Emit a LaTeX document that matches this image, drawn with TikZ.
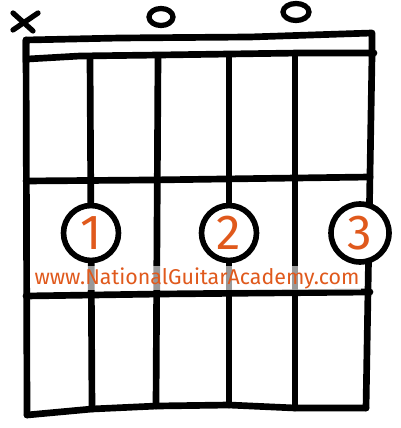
\documentclass[tikz,border=0pt]{standalone}
\usepackage{fontspec}
\setsansfont{Fira Sans}
\usepackage{tikz}
\usetikzlibrary{calc}
\definecolor{NGAorange}{HTML}{E0591C}

\begin{document}
\begin{tikzpicture}[x=0.02cm, y=-0.02cm, line cap=round, line join=round]
\useasboundingbox (0,0) rectangle (400,428);
\tikzset{wire/.style={line width=3.8pt}, fingerdot/.style={circle, draw, line width=3.2pt, fill=white, minimum size=1.1cm, inner sep=0pt, text=NGAorange, font=\sffamily\fontsize{28}{28}\selectfont}}
\draw[wire] (26,62) -- (26,40) -- (120,38) -- (250,37) -- (372,33) -- (372,56); %nut top
\draw[wire] (28,59) -- (80,56) -- (160,55) -- (300,53) -- (374,53); %nut bottom
\draw[wire] (26,40) -- (27,415); %string 6
\draw[wire] (90,58) -- (92,409); %string 5
\draw[wire] (158,57) -- (156,406); %string 4
\draw[wire] (229,56) -- (229,405); %string 3
\draw[wire] (295,56) -- (295,408); %string 2
\draw[wire] (372,56) -- (366,408); %string 1
\draw[wire] (26,181) -- (150,180) -- (370,177); %fret 1
\draw[wire] (26,296) -- (160,294) -- (370,292); %fret 2
\draw[wire] (27,415) -- (92,409) -- (157,406) -- (229,405) -- (295,408) -- (366,408); %bottom
\draw[line width=3pt] (13,13) -- (33,31) (13,30) -- (38,13); %muted
\draw[line width=3pt] (161,17) ellipse [x radius=12, y radius=8.5]; %open
\draw[line width=3pt] (296,12) ellipse [x radius=13, y radius=8.5]; %open
\node[fingerdot] (finger1) at (91,233) {1};
\node[fingerdot] (finger2) at (229,233) {2};
\node[fingerdot, minimum size=1.16cm] (finger3) at (360,233) {3};
\node[fill=white, fill opacity=0.6, text opacity=1, inner sep=1pt, text=NGAorange] (site) at (197,278) {\resizebox{6.5cm}{!}{\sffamily www.NationalGuitarAcademy.com}};
\end{tikzpicture}
\end{document}
